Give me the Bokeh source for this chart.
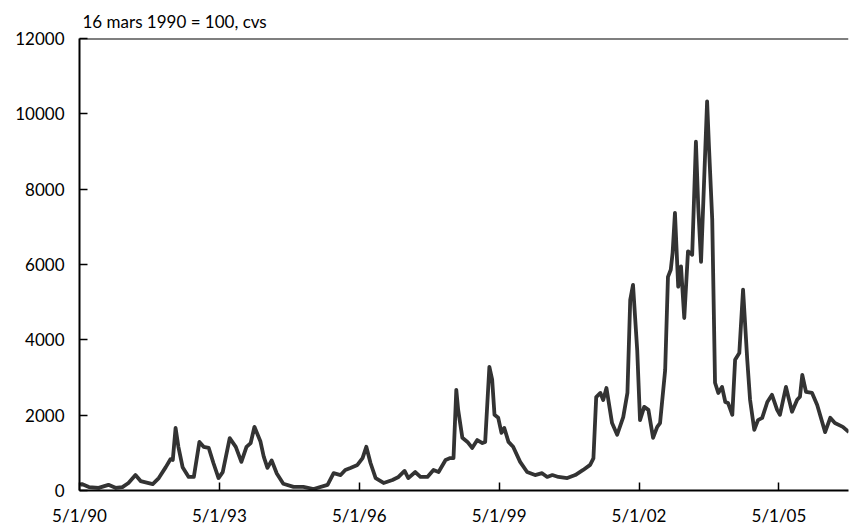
import pandas as pd
from bokeh.plotting import figure
from bokeh.models import FixedTicker, CustomJSTickFormatter, Span, Range1d
from bokeh.embed import file_html
from bokeh.resources import INLINE

# ---- data (decimal years, index 16 mars 1990 = 100, cvs) ----
years = [
    1990.34, 1990.38, 1990.53, 1990.74, 1990.95, 1991.10, 1991.25, 1991.38, 1991.53, 1991.64,
    1991.90, 1992.03, 1992.18, 1992.28, 1992.33, 1992.39, 1992.45, 1992.54, 1992.67, 1992.78,
    1992.90, 1992.99, 1993.10, 1993.20, 1993.31, 1993.40, 1993.55, 1993.68, 1993.80, 1993.91,
    1994.00, 1994.08, 1994.21, 1994.28, 1994.36, 1994.45, 1994.56, 1994.70, 1994.92, 1995.13,
    1995.35, 1995.65, 1995.78, 1995.93, 1996.03, 1996.14, 1996.29, 1996.40, 1996.48, 1996.57,
    1996.68, 1996.85, 1997.04, 1997.17, 1997.30, 1997.38, 1997.53, 1997.64, 1997.79, 1997.92,
    1998.03, 1998.18, 1998.28, 1998.35, 1998.41, 1998.45, 1998.54, 1998.65, 1998.75, 1998.86,
    1998.97, 1999.03, 1999.12, 1999.18, 1999.23, 1999.31, 1999.38, 1999.44, 1999.53, 1999.63,
    1999.78, 1999.93, 2000.10, 2000.25, 2000.36, 2000.47, 2000.60, 2000.79, 2000.96, 2001.13,
    2001.28, 2001.35, 2001.41, 2001.50, 2001.56, 2001.63, 2001.75, 2001.86, 2001.99, 2002.08,
    2002.14, 2002.20, 2002.29, 2002.35, 2002.44, 2002.53, 2002.63, 2002.72, 2002.78, 2002.89,
    2002.95, 2003.01, 2003.05, 2003.10, 2003.17, 2003.23, 2003.30, 2003.38, 2003.47, 2003.55,
    2003.60, 2003.66, 2003.70, 2003.79, 2003.83, 2003.90, 2003.96, 2004.03, 2004.11, 2004.18,
    2004.24, 2004.33, 2004.39, 2004.48, 2004.56, 2004.65, 2004.71, 2004.80, 2004.88, 2004.97,
    2005.08, 2005.18, 2005.29, 2005.35, 2005.48, 2005.53, 2005.61, 2005.72, 2005.78, 2005.83,
    2005.91, 2006.04, 2006.15, 2006.32, 2006.43, 2006.53, 2006.70, 2006.83,
]
index = [
    150, 170, 90, 70, 150, 70, 90, 200, 410, 250,
    170, 330, 620, 830, 810, 1660, 1160, 620, 360, 360,
    1290, 1160, 1130, 730, 330, 490, 1390, 1160, 760, 1160,
    1260, 1690, 1300, 900, 600, 800, 450, 180, 95, 95,
    40, 150, 460, 410, 545, 600, 680, 860, 1160, 730,
    330, 200, 280, 360, 520, 330, 490, 360, 360, 545,
    490, 810, 860, 860, 2670, 2140, 1400, 1290, 1130, 1340,
    1260, 1290, 3280, 2940, 2010, 1930, 1530, 1660, 1290, 1160,
    760, 490, 410, 460, 360, 410, 360, 330, 410, 545,
    680, 850, 2480, 2590, 2400, 2720, 1790, 1480, 1950, 2590,
    5060, 5460, 3730, 1870, 2220, 2140, 1400, 1690, 1790, 3200,
    5670, 5860, 6310, 7370, 5410, 5950, 4580, 6350, 6260, 9260,
    7530, 6070, 7370, 10330, 9130, 7200, 2860, 2590, 2750, 2350,
    2320, 2010, 3470, 3650, 5330, 3470, 2410, 1610, 1870, 1930,
    2350, 2540, 2140, 2010, 2750, 2490, 2090, 2410, 2490, 3070,
    2620, 2590, 2270, 1550, 1930, 1790, 1690, 1550,
]
tick_dates = ["1990-05-01", "1993-05-01", "1996-05-01", "1999-05-01", "2002-05-01", "2005-05-01"]
y_ticks = [0, 2000, 4000, 6000, 8000, 10000, 12000]
subtitle = "16 mars 1990 = 100, cvs"
x_start, x_end = "1990-05-01", "2006-10-28"


def to_dt(y):
    yr = int(y)
    start = pd.Timestamp(yr, 1, 1)
    end = pd.Timestamp(yr + 1, 1, 1)
    return start + (end - start) * (y - yr)


xs = [to_dt(y) for y in years]

FONT = "Lato"
p = figure(width=850, height=528, x_axis_type="datetime",
           x_range=Range1d(pd.Timestamp(x_start), pd.Timestamp(x_end)),
           y_range=Range1d(0, 12000),
           output_backend="svg", toolbar_location=None,
           min_border_left=79, min_border_right=2, min_border_top=38, min_border_bottom=38)
p.outline_line_color = None
p.xgrid.visible = False
p.ygrid.visible = False
p.background_fill_color = "white"
p.border_fill_color = "white"

p.title.text = subtitle
p.title.align = "left"
p.title.offset = 3
p.title.standoff = 13
p.title.text_font = FONT
p.title.text_font_size = "17px"
p.title.text_font_style = "normal"
p.title.text_color = "black"

p.line(xs, index, line_color="#333333", line_width=3.8, line_join="round")

# top rule at axis maximum
p.add_layout(Span(location=y_ticks[-1], dimension="width", line_color="black", line_width=2))

tick_ms = [pd.Timestamp(d).value // 10**6 for d in tick_dates]
xa = p.xaxis[0]
xa.ticker = FixedTicker(ticks=tick_ms)
xa.formatter = CustomJSTickFormatter(code="""
const d = new Date(tick);
return (d.getUTCMonth()+1) + "/" + d.getUTCDate() + "/" + String(d.getUTCFullYear()).slice(2);
""")
ya = p.yaxis[0]
ya.ticker = FixedTicker(ticks=y_ticks)

for ax in (xa, ya):
    ax.axis_line_color = "black"
    ax.axis_line_width = 2
    ax.major_tick_line_color = "black"
    ax.major_tick_line_width = 1.5
    ax.major_tick_in = 8
    ax.major_tick_out = 0
    ax.minor_tick_line_color = None
    ax.major_label_text_font = FONT
    ax.major_label_text_font_size = "17px"
    ax.major_label_text_color = "black"

xa.major_label_standoff = 14
ya.major_label_standoff = 15

open("out.html", "w").write(file_html(p, INLINE))
